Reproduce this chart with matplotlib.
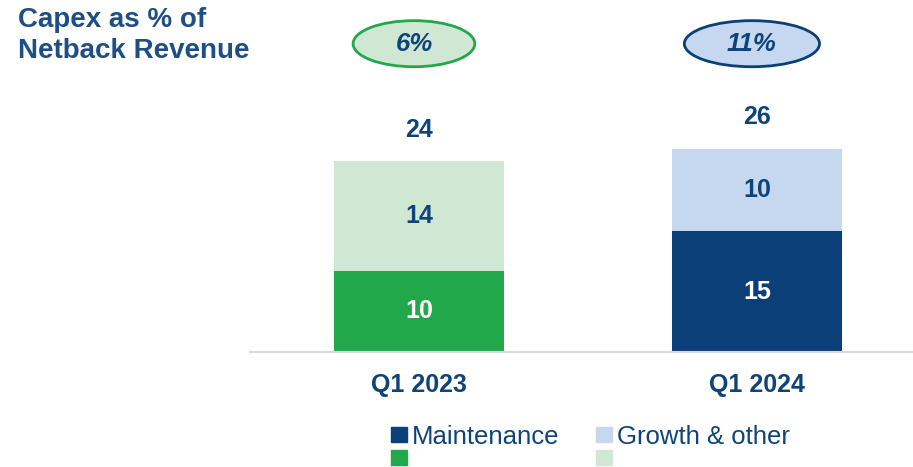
import numpy as np
import matplotlib.pyplot as plt
from matplotlib.patches import Ellipse, Rectangle

plt.rcParams['font.family'] = ['Liberation Sans', 'DejaVu Sans']

quarters = ['Q1 2023', 'Q1 2024']
# bar heights (labels are rounded values)
maintenance = [10.2, 15.2]
growth = [13.8, 10.4]
maint_labels = ['10', '15']
growth_labels = ['14', '10']
total_labels = ['24', '26']
capex_pct = ['6%', '11%']

navy = '#0B3F78'
txt = '#0E4479'
green = '#21A84B'
lgreen = '#D0E8D3'
lblue = '#C6D8F0'

base_cols = [green, navy]
top_cols = [lgreen, lblue]
ell_face = [lgreen, lblue]
ell_edge = [green, navy]

W, H = 913, 467
fig = plt.figure(figsize=(W / 100, H / 100), dpi=100)
ax = fig.add_axes([250 / W, 115 / H, 663 / W, 352 / H])

x = np.arange(len(quarters))
totals = np.array(maintenance) + np.array(growth)

ax.bar(x, maintenance, width=0.503, color=base_cols, zorder=2)
ax.bar(x, growth, bottom=maintenance, width=0.503, color=top_cols, zorder=2)

for i in x:
    ax.text(i, maintenance[i] / 2, maint_labels[i], ha='center', va='center',
            fontsize=18, fontweight='bold', color='white')
    ax.text(i, maintenance[i] + growth[i] / 2, growth_labels[i], ha='center', va='center',
            fontsize=18, fontweight='bold', color=txt)
    ax.text(i, totals[i] + 4, total_labels[i], ha='center', va='center',
            fontsize=18, fontweight='bold', color=txt)
    # capex % bubble
    ew = [0.36, 0.40][i]
    e = Ellipse((i - 0.015, 38.8), ew, 5.8, facecolor=ell_face[i], edgecolor=ell_edge[i],
                linewidth=2, clip_on=False, zorder=3)
    ax.add_patch(e)
    ax.text(i - 0.015, 38.8, capex_pct[i], ha='center', va='center', fontsize=18.5,
            fontweight='bold', fontstyle='italic', color=txt, zorder=4)

ax.set_xlim(-0.5, 1.4615)
ax.set_ylim(0, 44.3)
ax.set_xticks(x)
ax.set_xticklabels(quarters, fontsize=18, fontweight='bold', color=txt)
ax.tick_params(axis='x', length=0, pad=15)
ax.set_yticks([])
for s in ['top', 'right', 'left']:
    ax.spines[s].set_visible(False)
ax.spines['bottom'].set_color('#D9D9D9')
ax.spines['bottom'].set_linewidth(1.5)

fig.text(18 / W, 1 - 7 / H, 'Capex as % of\nNetback Revenue', ha='left', va='top',
         fontsize=20, fontweight='bold', color='#1F4E85', linespacing=1.25)

# legend: two rows of swatches, labels only on the first row
legend_items = [(391, navy, 'Maintenance'), (596, lblue, 'Growth & other')]
for lx, c, lab in legend_items:
    fig.patches.append(Rectangle((lx / W, 1 - 442 / H), 16 / W, 15 / H, color=c,
                                 transform=fig.transFigure, figure=fig))
    fig.text((lx + 21) / W, 1 - 437 / H, lab, ha='left', va='center', fontsize=18.5, color=txt)
for lx, c in [(391, green), (596, lgreen)]:
    fig.patches.append(Rectangle((lx / W, 1 - 465 / H), 16 / W, 15 / H, color=c,
                                 transform=fig.transFigure, figure=fig))

fig.savefig('out.png', dpi=100)
